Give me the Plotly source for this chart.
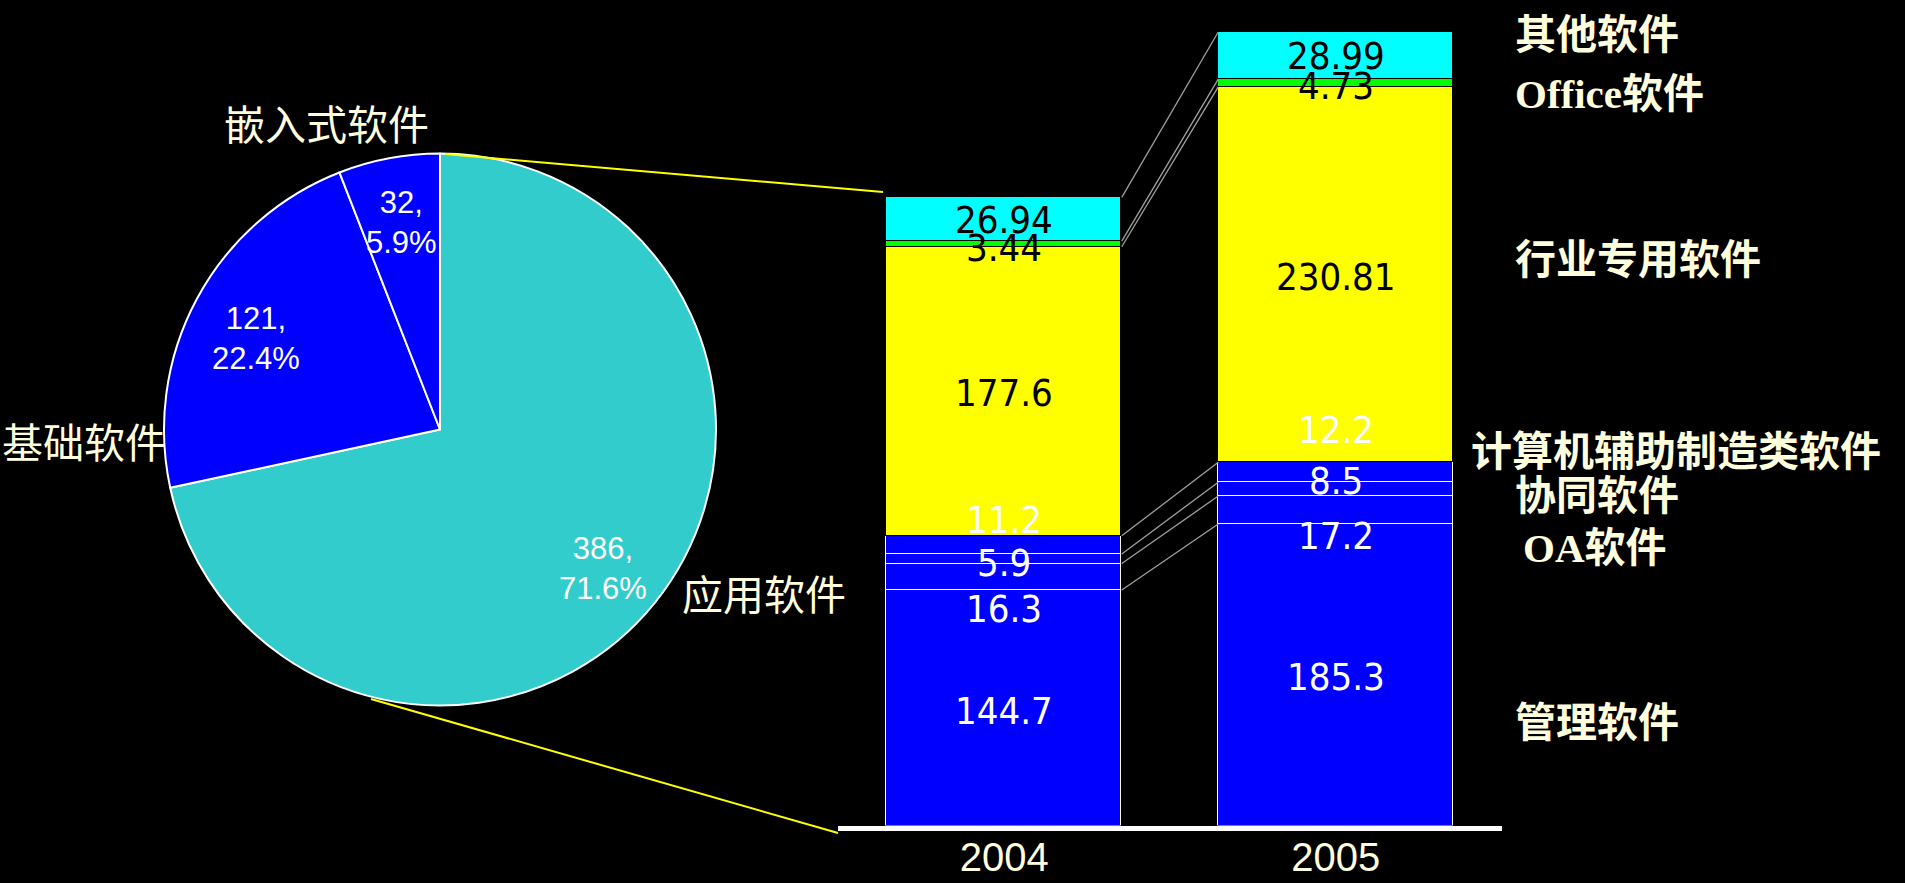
import math
import plotly.graph_objects as go

# ---------------- data ----------------
pie_labels = ["应用软件", "基础软件", "嵌入式软件"]
pie_values = [386, 121, 32]

years = ["2004", "2005"]
segments = ["管理软件", "OA软件", "协同软件", "计算机辅助制造类软件",
            "行业专用软件", "Office软件", "其他软件"]
values_2004 = [144.7, 16.3, 5.9, 11.2, 177.6, 3.44, 26.94]
values_2005 = [185.3, 17.2, 8.5, 12.2, 230.81, 4.73, 28.99]

# ---------------- styles ----------------
W, H = 1905, 883
BG = "#000000"
CREAM = "#FFFFDD"
pie_colors = ["#33CCCC", "#0000FF", "#0000FF"]
pie_text_nudge = [8, 8, -2]  # px, positive = down
seg_colors = ["#0000FF", "#0000FF", "#0000FF", "#0000FF", "#FFFF00", "#00FF00", "#00FFFF"]
seg_line_colors = ["#FFFFFF"] * 4 + ["#000000"] * 3
seg_text_colors = ["#FFFFFF"] * 4 + ["#000000"] * 3
# pixel nudges of value labels (positive = down)
nudge_2004 = [3, 32, 4, -25, 2, 4, 1]
nudge_2005 = [2, 26, -8, -42, 2, 3, 0]

CJK = "Noto Sans CJK SC, sans-serif"
NARROW = "DejaVu Sans Condensed, DejaVu Sans, sans-serif"
ARIAL = "Liberation Sans, Arial, sans-serif"
SERIF = "Liberation Serif, Times New Roman, serif"


def px(x):
    return x / W


def py(y):
    return 1 - y / H


# bar geometry
bar_width = 0.709
x_dom = [838.4 / W, 1501.6 / W]
base_px = 825.5
unit_px = 1.627
y_dom = [py(base_px), 1.0]
y_max = base_px / unit_px

# pie geometry
pcx, pcy, pr = 440, 429.5, 276

fig = go.Figure()

# ---------------- pie ----------------
fig.add_trace(go.Pie(
    labels=pie_labels, values=pie_values, sort=False, direction="clockwise",
    rotation=0, textinfo="none", hoverinfo="label+value+percent",
    marker=dict(colors=pie_colors, line=dict(color="#FFFFFF", width=2)),
    domain=dict(x=[px(pcx - pr), px(pcx + pr)], y=[py(pcy + pr), py(pcy - pr)]),
    showlegend=False,
))

annotations = []
total = sum(pie_values)
cum = 0
for k, (lab, v) in enumerate(zip(pie_labels, pie_values)):
    mid = (cum + v / 2) / total
    cum += v
    th = 2 * math.pi * mid
    r = 0.765 * 273
    annotations.append(dict(
        x=px(pcx + r * math.sin(th)), y=py(pcy - r * math.cos(th) + pie_text_nudge[k]),
        xref="paper", yref="paper", showarrow=False,
        xanchor="center", yanchor="middle",
        text=f"{v},<br>{100 * v / total:.1f}%", align="center",
        font=dict(family=ARIAL, size=31, color="#FFFFFF"),
    ))

# pie outer labels
pie_outer_pos = {"嵌入式软件": (222, 122), "基础软件": (0, 440), "应用软件": (680, 592)}
for lab in pie_labels:
    x0, y0 = pie_outer_pos[lab]
    annotations.append(dict(
        x=px(x0), y=py(y0), xref="paper", yref="paper", showarrow=False,
        xanchor="left", yanchor="middle", text=lab,
        font=dict(family=CJK, size=41, color=CREAM),
    ))

# ---------------- stacked bars ----------------
xs = [0, 1]
for i, seg in enumerate(segments):
    fig.add_trace(go.Bar(
        x=xs, y=[values_2004[i], values_2005[i]], name=seg, width=bar_width,
        marker=dict(color=seg_colors[i], line=dict(color=seg_line_colors[i], width=1.5)),
        xaxis="x", yaxis="y", showlegend=False, hoverinfo="name+y",
    ))

# value labels
for xi, vals, nud in [(0, values_2004, nudge_2004), (1, values_2005, nudge_2005)]:
    c = 0
    for i, v in enumerate(vals):
        annotations.append(dict(
            x=xi, y=c + v / 2, xref="x", yref="y", showarrow=False,
            text=f"{v:g}", yshift=-nud[i], xanchor="center", yanchor="middle",
            font=dict(family=NARROW, size=38, color=seg_text_colors[i]),
        ))
        c += v

# connector lines between the two bars at each segment boundary
c4, c5 = 0, 0
for i in range(len(segments)):
    c4 += values_2004[i]
    c5 += values_2005[i]
    fig.add_trace(go.Scatter(
        x=[bar_width / 2, 1 - bar_width / 2], y=[c4, c5], mode="lines",
        line=dict(color="#A0A0A0", width=1.3), xaxis="x", yaxis="y",
        showlegend=False, hoverinfo="skip",
    ))

# right-side segment labels
right_pos = {
    "其他软件": (1513, 31),
    "Office软件": (1513, 90),
    "行业专用软件": (1513, 256),
    "计算机辅助制造类软件": (1469, 448),
    "协同软件": (1513, 492),
    "OA软件": (1521, 544),
    "管理软件": (1513, 719),
}
for seg in segments:
    x0, y0 = right_pos[seg]
    txt = seg
    for latin in ["Office", "OA"]:
        if seg.startswith(latin):
            txt = f"<span style='font-family:{SERIF}'>{latin}</span>" + seg[len(latin):]
    annotations.append(dict(
        x=px(x0), y=py(y0), xref="paper", yref="paper", showarrow=False,
        xanchor="left", yanchor="middle", text=f"<b>{txt}</b>",
        font=dict(family=CJK, size=41, color=CREAM),
    ))

shapes = [
    dict(type="line", xref="paper", yref="paper",
         x0=px(445), y0=py(154), x1=px(883), y1=py(192),
         line=dict(color="#FFFF00", width=2)),
    dict(type="line", xref="paper", yref="paper",
         x0=px(371), y0=py(699), x1=px(838), y1=py(833),
         line=dict(color="#FFFF00", width=2)),
]

fig.update_layout(
    width=W, height=H, margin=dict(l=0, r=0, t=0, b=0),
    paper_bgcolor=BG, plot_bgcolor=BG, barmode="stack", bargap=0,
    xaxis=dict(domain=x_dom, range=[-0.5, 1.5], tickvals=xs, ticktext=years,
               showgrid=False, zeroline=False, showline=True, linecolor="#FFFFFF",
               linewidth=5, ticks="", ticklabelstandoff=-8,
               tickfont=dict(family=ARIAL, size=40, color=CREAM), fixedrange=True),
    yaxis=dict(domain=y_dom, range=[0, y_max], visible=False, fixedrange=True),
    annotations=annotations, shapes=shapes,
)

fig.write_html(
    "out.html",
    config={"displayModeBar": False},
    post_script=(
        "document.documentElement.style.overflow='hidden';"
        "document.body.style.margin='0';document.body.style.background='#000';"
        "document.body.style.overflow='hidden';"
        "document.querySelectorAll('.plotly-graph-div,.svg-container').forEach("
        "function(d){d.style.overflow='hidden';});"
    ),
)
